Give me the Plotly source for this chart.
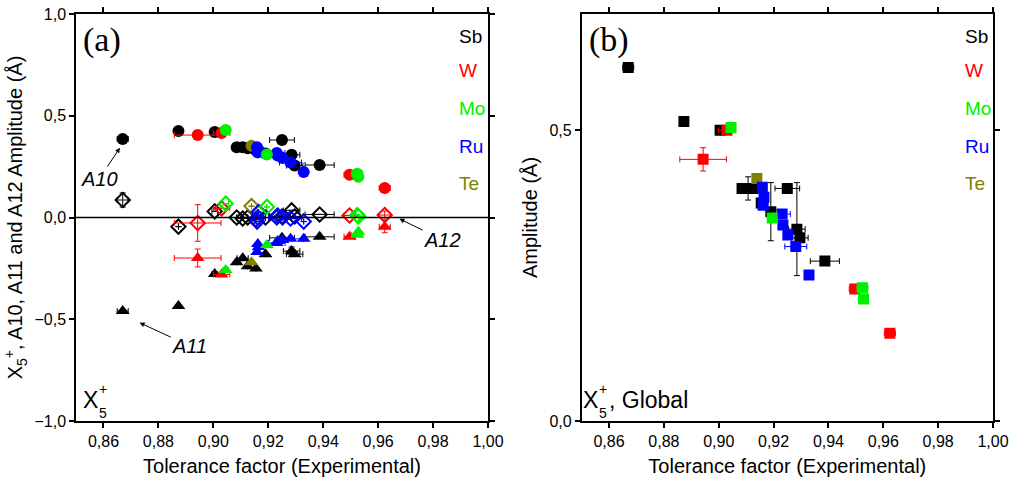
import plotly.graph_objects as go

# ---------------- data ----------------
elements = ["Sb", "W", "Mo", "Ru", "Te"]
colors = {"Sb": "#000000", "W": "#ff0000", "Mo": "#00ee00", "Ru": "#0000ff", "Te": "#808000"}

sb_x = [0.8670, 0.8873, 0.9005, 0.9085, 0.9107, 0.9125, 0.9155, 0.9190, 0.9250, 0.9285, 0.9296, 0.9387]
sb_a10 = [0.386, 0.425, 0.420, 0.345, 0.345, 0.340, 0.330, 0.315, 0.381, 0.308, 0.255, 0.258]
sb_a11 = [-0.460, -0.435, -0.278, -0.220, -0.200, -0.240, -0.250, -0.180, -0.100, -0.165, -0.180, -0.095]
sb_a12 = [0.086, -0.045, 0.030, 0.000, -0.005, 0.000, -0.010, 0.000, 0.005, 0.035, 0.005, 0.015]
sb_glob = [0.608, 0.515, 0.500, 0.400, 0.400, 0.400, 0.375, 0.360, 0.400, 0.330, 0.315, 0.275]
sb_xerr = [0.002, 0.0, 0.001, 0.0, 0.002, 0.0, 0.0, 0.0, 0.0045, 0.003, 0.003, 0.0053]
sb_a10_err = [0, 0, 0, 0, 0, 0, 0, 0, 0, 0.02, 0.02, 0]
sb_a11_err = [0, 0, 0, 0, 0, 0, 0, 0, 0, 0.02, 0, 0]
sb_a12_err = [0.035, 0, 0, 0, 0, 0, 0, 0, 0, 0, 0, 0]
sb_glob_err = [0, 0, 0, 0, 0.02, 0, 0, 0.05, 0, 0.08, 0, 0]

w_x = [0.8943, 0.9030, 0.9496, 0.9624]
w_a10 = [0.405, 0.415, 0.210, 0.145]
w_a11 = [-0.199, -0.280, -0.094, -0.045]
w_a12 = [-0.027, 0.045, 0.010, 0.012]
w_glob = [0.450, 0.500, 0.227, 0.151]
w_xerr = [0.0085, 0.003, 0.002, 0.002]
w_a10_err = [0, 0, 0, 0]
w_a11_err = [0.044, 0, 0, 0.03]
w_a12_err = [0.09, 0, 0, 0.02]
w_glob_err = [0.02, 0, 0, 0]

mo_x = [0.9045, 0.9195, 0.9524, 0.9528]
mo_a10 = [0.430, 0.310, 0.215, 0.200]
mo_a11 = [-0.258, -0.135, -0.085, -0.070]
mo_a12 = [0.068, 0.052, 0.012, 0.005]
mo_glob = [0.505, 0.349, 0.229, 0.210]
mo_xerr = [0.001, 0.0, 0.002, 0.0]
mo_a10_err = [0, 0.02, 0, 0]
mo_a11_err = [0, 0, 0, 0]
mo_a12_err = [0, 0, 0, 0]
mo_glob_err = [0, 0, 0, 0]

ru_x = [0.9159, 0.9165, 0.9162, 0.9231, 0.9234, 0.9252, 0.9281, 0.9329]
ru_a10 = [0.345, 0.330, 0.320, 0.317, 0.305, 0.292, 0.270, 0.224]
ru_a11 = [-0.170, -0.145, -0.130, -0.125, -0.115, -0.110, -0.105, -0.105]
ru_a12 = [-0.020, 0.027, 0.000, 0.000, 0.010, 0.000, -0.005, -0.020]
ru_glob = [0.402, 0.385, 0.371, 0.356, 0.337, 0.320, 0.300, 0.251]
ru_xerr = [0.001, 0.0, 0.0, 0.003, 0.0, 0.0, 0.004, 0.0]
ru_a10_err = [0] * 8
ru_a11_err = [0] * 8
ru_a12_err = [0] * 8
ru_glob_err = [0] * 8

te_x = [0.9139]
te_a10 = [0.352]
te_a11 = [-0.220]
te_a12 = [0.056]
te_glob = [0.417]
te_xerr = [0.0]
te_a10_err = [0]
te_a11_err = [0]
te_a12_err = [0]
te_glob_err = [0]

x_ticks = [0.86, 0.88, 0.90, 0.92, 0.94, 0.96, 0.98, 1.00]

data = {
    "Sb": (sb_x, sb_xerr, sb_a10, sb_a10_err, sb_a11, sb_a11_err, sb_a12, sb_a12_err, sb_glob, sb_glob_err),
    "W": (w_x, w_xerr, w_a10, w_a10_err, w_a11, w_a11_err, w_a12, w_a12_err, w_glob, w_glob_err),
    "Mo": (mo_x, mo_xerr, mo_a10, mo_a10_err, mo_a11, mo_a11_err, mo_a12, mo_a12_err, mo_glob, mo_glob_err),
    "Ru": (ru_x, ru_xerr, ru_a10, ru_a10_err, ru_a11, ru_a11_err, ru_a12, ru_a12_err, ru_glob, ru_glob_err),
    "Te": (te_x, te_xerr, te_a10, te_a10_err, te_a11, te_a11_err, te_a12, te_a12_err, te_glob, te_glob_err),
}

# ---------------- figure ----------------
W, H = 1012, 489
def px(v): return v / W
def py(v): return 1 - v / H

FONT = "Liberation Sans, Arial, sans-serif"
fig = go.Figure()

def err(arr, col):
    return dict(type="data", array=arr, color=col, thickness=1, width=3, visible=True)

draw_order = ["Sb", "W", "Te", "Ru", "Mo"]
for el in draw_order:
    x, xe, a10, a10e, a11, a11e, a12, a12e, g, ge = data[el]
    c = colors[el]
    fig.add_trace(go.Scatter(x=x, y=a12, mode="markers", xaxis="x", yaxis="y",
                             marker=dict(symbol="diamond-open", size=11, color=c, line=dict(width=2, color=c)),
                             error_x=err(xe, c), error_y=err(a12e, c), showlegend=False))
    fig.add_trace(go.Scatter(x=x, y=a11, mode="markers", xaxis="x", yaxis="y",
                             marker=dict(symbol="triangle-up", size=12, color=c),
                             error_x=err(xe, c), error_y=err(a11e, c), showlegend=False))
    fig.add_trace(go.Scatter(x=x, y=a10, mode="markers", xaxis="x", yaxis="y",
                             marker=dict(symbol="circle", size=12, color=c),
                             error_x=err(xe, c), error_y=err(a10e, c), showlegend=False))
    fig.add_trace(go.Scatter(x=x, y=g, mode="markers", xaxis="x2", yaxis="y2",
                             marker=dict(symbol="square", size=11, color=c),
                             error_x=err(xe, c), error_y=err(ge, c), showlegend=False))

dom_y = [py(421), py(14)]
axis_common = dict(showline=True, linecolor="black", linewidth=1.5, mirror="allticks",
                   ticks="outside", ticklen=5, tickwidth=1.5, tickcolor="black", automargin=False,
                   showgrid=False, zeroline=False, tickfont=dict(size=16, color="black", family=FONT))

fig.update_layout(
    template="none",
    width=W, height=H, margin=dict(l=0, r=0, t=0, b=0, autoexpand=False),
    paper_bgcolor="white", plot_bgcolor="white",
    separators=",.",
    font=dict(family=FONT, color="black"),
    xaxis=dict(domain=[px(76), px(488)], range=[0.85, 1.0], tickvals=x_ticks, tickformat=".2f",
               title=dict(text="Tolerance factor (Experimental)", font=dict(size=20), standoff=10),
               anchor="y", **axis_common),
    yaxis=dict(domain=dom_y, range=[-1, 1], tickvals=[-1, -0.5, 0, 0.5, 1], tickformat=".1f",
               title=dict(text="X<sub>5</sub><sup>+</sup>, A10, A11 and A12 Amplitude (Å)", font=dict(size=20), standoff=6),
               anchor="x", **axis_common),
    xaxis2=dict(domain=[px(581.6), px(993)], range=[0.85, 1.0], tickvals=x_ticks, tickformat=".2f",
                title=dict(text="Tolerance factor (Experimental)", font=dict(size=20), standoff=10),
                anchor="y2", **axis_common),
    yaxis2=dict(domain=dom_y, range=[0, 0.7], tickvals=[0, 0.5], tickformat=".1f",
                title=dict(text="Amplitude (Å)", font=dict(size=20), standoff=6),
                anchor="x2", **axis_common),
)

# zero line in panel (a)
fig.add_shape(type="line", xref="x", yref="y", x0=0.85, x1=1.0, y0=0, y1=0,
              line=dict(color="black", width=1.5))

ann = []
def text_ann(xp, yp, text, size, color="black", xanchor="center", family=None):
    f = dict(size=size, color=color)
    if family:
        f["family"] = family
    return dict(x=px(xp), y=py(yp), xref="paper", yref="paper", text=text, showarrow=False,
                xanchor=xanchor, yanchor="middle", font=f)

SERIF = "Liberation Serif, Times New Roman, serif"
# panel letters
ann.append(text_ann(102, 40, "(a)", 34, family=SERIF))
ann.append(text_ann(609, 40, "(b)", 34, family=SERIF))
# element labels
label_y = [37, 70, 108, 146, 183]
for el, yy in zip(elements, label_y):
    for xl in (457, 963):
        ann.append(text_ann(xl, yy, el, 19, color=colors[el], xanchor="left"))
# X5+ labels
for xl in (81, 581):
    ann.append(text_ann(xl, 400, "X", 23, xanchor="left"))
    ann.append(text_ann(xl + 16, 389, "+", 14, xanchor="left"))
    ann.append(text_ann(xl + 16, 413, "5", 14, xanchor="left"))
ann.append(text_ann(581 + 26, 400, ", Global", 23, xanchor="left"))
# A10 / A11 / A12 arrows
arrow_style = dict(showarrow=True, arrowhead=2, arrowsize=1, arrowwidth=1, arrowcolor="black",
                   font=dict(size=20, color="black"), xref="x", yref="y", standoff=2)
ann.append(dict(x=0.8664, y=0.351, ax=-22, ay=33, text="<i>A10</i>", **arrow_style))
ann.append(dict(x=0.8725, y=-0.513, ax=52, ay=24, text="<i>A11</i>", **arrow_style))
ann.append(dict(x=0.9671, y=-0.002, ax=45, ay=22, text="<i>A12</i>", **arrow_style))

fig.update_layout(annotations=ann)
fig.write_html("out.html")
